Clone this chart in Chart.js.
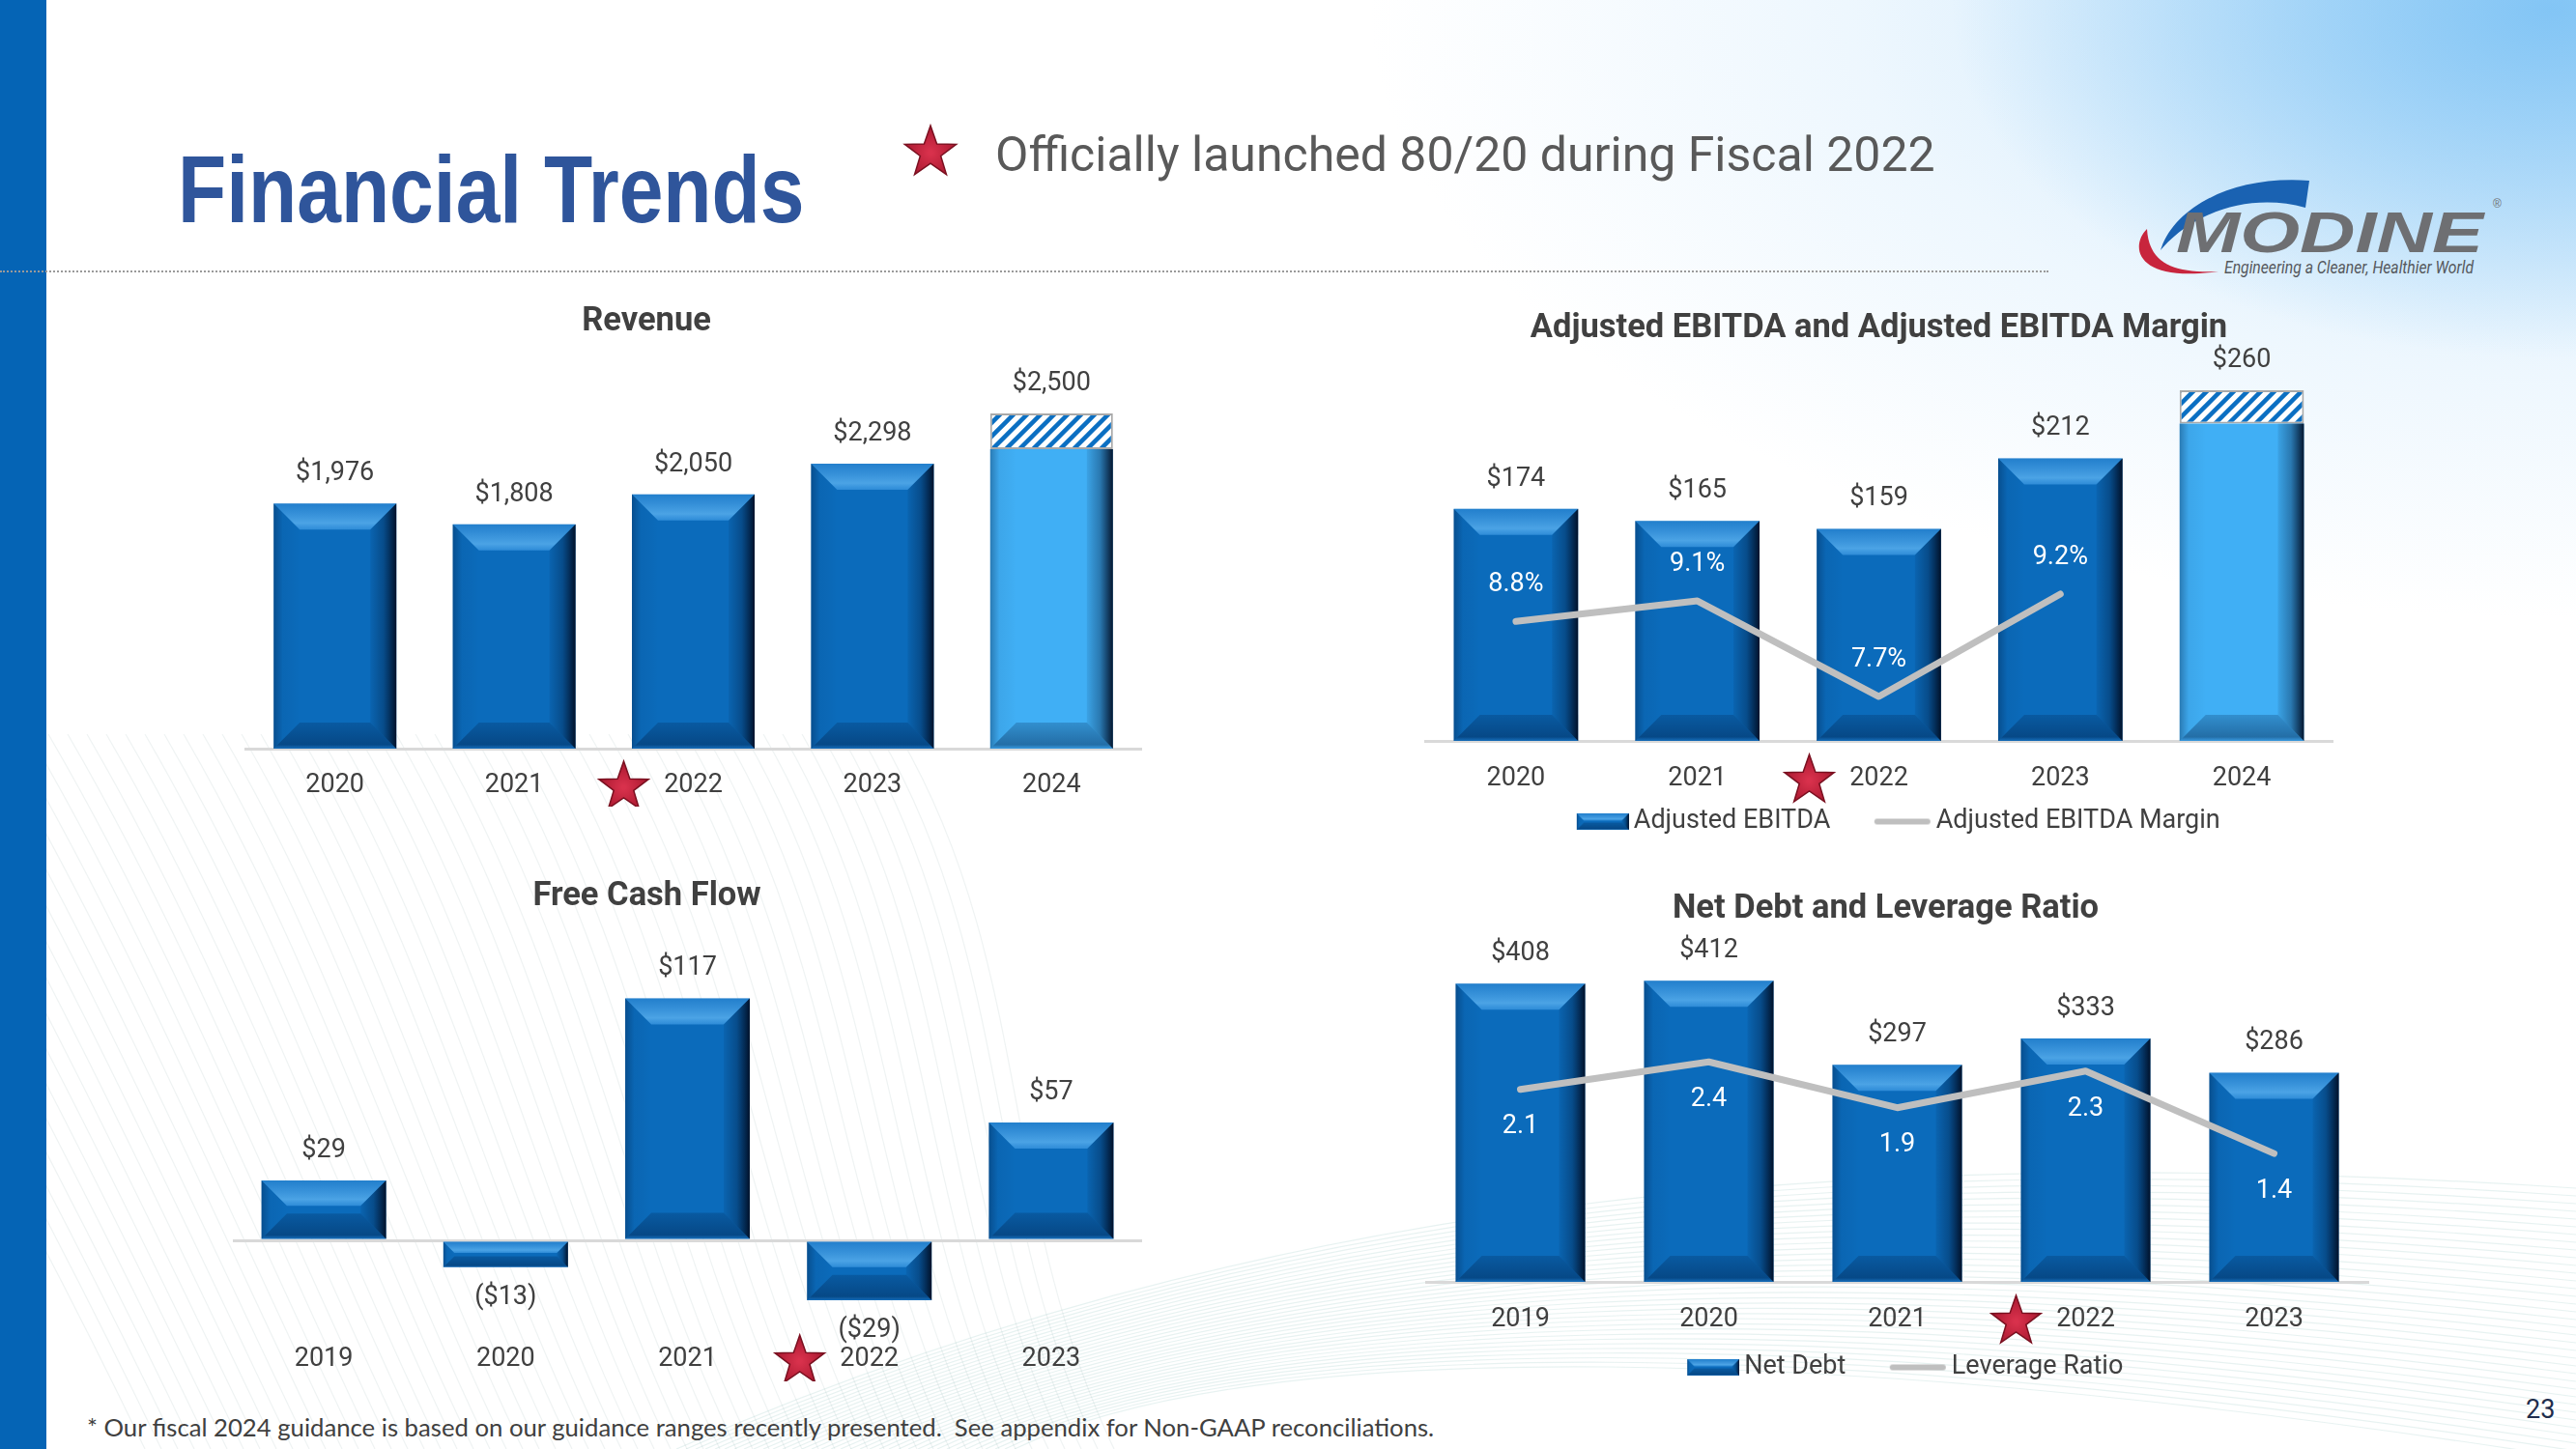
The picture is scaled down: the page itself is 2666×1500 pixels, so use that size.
<!DOCTYPE html>
<html>
<head>
<meta charset="utf-8">
<title>Financial Trends</title>
<script src="https://cdn.jsdelivr.net/npm/chart.js@4.4.1/dist/chart.umd.min.js"></script>
<style>
  html, body { margin: 0; padding: 0; }
  body { width: 2666px; height: 1500px; position: relative; overflow: hidden; background: #fff; }
  #glow { position: absolute; left: 0; top: 0; width: 2666px; height: 1500px;
    background:
      radial-gradient(ellipse 620px 360px at 2640px 10px, rgba(120,192,244,0.85), rgba(120,192,244,0) 100%),
      radial-gradient(ellipse 1250px 640px at 2666px 0px, rgba(175,218,249,0.8), rgba(205,232,252,0.35) 60%, rgba(255,255,255,0) 100%); }
  #waves { position: absolute; left: 0; top: 0; }
  #stripe { position: absolute; left: 0; top: 0; width: 48px; height: 1500px; background: #0564b5; }
  #title { position: absolute; left: 184px; top: 146px; margin: 0; color: #2f559b;
    font: bold 99px/99px 'Liberation Sans', Arial, sans-serif; white-space: nowrap;
    transform: scaleX(0.83); transform-origin: 0 0; }
  #subtitle { position: absolute; left: 1030px; top: 135px; color: #595959;
    font: 50px/50px 'Roboto', sans-serif; white-space: nowrap; }
  #rule { position: absolute; left: 0; top: 280px; width: 2120px; border-top: 2px dotted #9a9a9a; }
  #note { position: absolute; left: 90px; top: 1462px; color: #404040; white-space: pre;
    font: 25.7px/31px 'Lato', 'Open Sans', sans-serif; }
  #page { position: absolute; left: 2614px; top: 1443px; color: #1f2d4d;
    font: 27px/32px 'Roboto', sans-serif; }
  canvas { position: absolute; }
</style>
</head>
<body>
<div id="glow"></div>
<svg id="waves" width="2666" height="1500"></svg>
<div id="stripe"></div>
<h1 id="title">Financial Trends</h1>
<canvas id="headStar" width="64" height="64" style="left:931px;top:125px"></canvas>
<div id="subtitle">Officially launched 80/20 during Fiscal 2022</div>
<div id="rule"></div>
<svg width="420" height="130" viewBox="0 0 420 130" style="position:absolute;left:2200px;top:175px">
  <path d="M 36 84 C 50 40, 110 6, 190 12 L 186 40 C 130 24, 70 44, 36 84 Z" fill="#1a62b2"/>
  <path d="M 22 62 C 4 80, 10 118, 96 106 C 50 108, 24 98, 22 62 Z" fill="#c8253d"/>
  <text x="52" y="86" font-family="Liberation Sans, Arial, sans-serif" font-weight="bold" font-style="italic" font-size="60" fill="#6e6f72" textLength="318" lengthAdjust="spacingAndGlyphs">MODINE</text>
  <text x="380" y="40" font-family="Liberation Sans, sans-serif" font-size="12" fill="#6e6f72">®</text>
  <text x="102" y="108" font-family="Roboto, sans-serif" font-style="italic" font-size="18" fill="#55585c" textLength="258" lengthAdjust="spacingAndGlyphs">Engineering a Cleaner, Healthier World</text>
</svg>

<canvas id="revenueChart" width="1074" height="526" style="left:147px;top:309px"></canvas>
<canvas id="ebitdaChart" width="1020" height="558" style="left:1435px;top:316px"></canvas>
<canvas id="fcfChart" width="1075" height="526" style="left:147px;top:904px"></canvas>
<canvas id="debtChart" width="1055" height="522" style="left:1436px;top:917px"></canvas>

<div id="note">* Our fiscal 2024 guidance is based on our guidance ranges recently presented.  See appendix for Non-GAAP reconciliations.</div>
<div id="page">23</div>

<script>
// ---- data ----
const revenueYears = ['2020', '2021', '2022', '2023', '2024'];
const revenue = [1976, 1808, 2050, 2298, 2415];
const revenueGuidance = [null, null, null, null, 288];
const revenueLabels = ['$1,976', '$1,808', '$2,050', '$2,298', '$2,500'];

const ebitdaYears = ['2020', '2021', '2022', '2023', '2024'];
const ebitda = [174, 165, 159, 212, 238];
const ebitdaGuidance = [null, null, null, null, 25];
const ebitdaLabels = ['$174', '$165', '$159', '$212', '$260'];
const ebitdaMargin = [8.8, 9.1, 7.7, 9.2, null];
const marginLabels = ['8.8%', '9.1%', '7.7%', '9.2%', ''];

const fcfYears = ['2019', '2020', '2021', '2022', '2023'];
const freeCashFlow = [29, -13, 117, -29, 57];
const fcfLabels = ['$29', '($13)', '$117', '($29)', '$57'];

const debtYears = ['2019', '2020', '2021', '2022', '2023'];
const netDebt = [408, 412, 297, 333, 286];
const netDebtLabels = ['$408', '$412', '$297', '$333', '$286'];
const leverage = [2.1, 2.4, 1.9, 2.3, 1.4];
const leverageLabels = ['2.1', '2.4', '1.9', '2.3', '1.4'];

const launchYear = '2022';

// ---- style ----
const FONT = "'Roboto', sans-serif";
const FS = 27;
const DARK = '#0b6bbb';
const LIGHT = '#40aff5';
const LINE = '#bfbfbf';
const TEXT = '#404040';
const AXIS = '#d9d9d9';

Chart.defaults.font.family = FONT;
Chart.defaults.color = TEXT;
Chart.defaults.animation = false;

function poly(ctx, pts) {
  ctx.beginPath();
  pts.forEach((p, i) => i ? ctx.lineTo(p[0], p[1]) : ctx.moveTo(p[0], p[1]));
  ctx.closePath();
}

// bevelled look of the slide's bars
function paintBevel(ctx, l, t, r, b, withTop) {
  const w = r - l, h = b - t;
  const d = Math.min(27, h / 2.3, w / 4.5);
  const tt = withTop ? t + d : t;
  ctx.save();
  let g;
  if (withTop) {
    g = ctx.createLinearGradient(0, t, 0, t + d);
    g.addColorStop(0, 'rgba(90,175,245,0.30)');
    g.addColorStop(0.75, 'rgba(115,198,255,0.62)');
    g.addColorStop(1, 'rgba(90,180,250,0.45)');
    ctx.fillStyle = g;
    poly(ctx, [[l, t], [r, t], [r - d, t + d], [l + d, t + d]]);
    ctx.fill();
  }
  g = ctx.createLinearGradient(0, b - d, 0, b);
  g.addColorStop(0, 'rgba(0,30,70,0.22)');
  g.addColorStop(0.85, 'rgba(0,30,70,0.45)');
  g.addColorStop(1, 'rgba(40,110,180,0.35)');
  ctx.fillStyle = g;
  poly(ctx, [[l, b], [r, b], [r - d, b - d], [l + d, b - d]]);
  ctx.fill();
  g = ctx.createLinearGradient(r - d, 0, r, 0);
  g.addColorStop(0, 'rgba(0,20,50,0.08)');
  g.addColorStop(0.5, 'rgba(0,20,50,0.35)');
  g.addColorStop(1, 'rgba(0,10,30,0.92)');
  ctx.fillStyle = g;
  poly(ctx, [[r, t], [r, b], [r - d, b - d], [r - d, tt]]);
  ctx.fill();
  g = ctx.createLinearGradient(l, 0, l + d, 0);
  g.addColorStop(0, 'rgba(0,25,60,0.35)');
  g.addColorStop(0.35, 'rgba(0,25,60,0.06)');
  g.addColorStop(1, 'rgba(0,0,0,0)');
  ctx.fillStyle = g;
  poly(ctx, [[l, t], [l, b], [l + d, b - d], [l + d, tt]]);
  ctx.fill();
  ctx.restore();
}

function drawStar(ctx, cx, cy, R) {
  const r = R * 0.4;
  ctx.save();
  ctx.beginPath();
  for (let k = 0; k < 10; k++) {
    const rad = k % 2 ? r : R;
    const a = -Math.PI / 2 + k * Math.PI / 5;
    const px = cx + rad * Math.cos(a), py = cy + rad * Math.sin(a);
    k ? ctx.lineTo(px, py) : ctx.moveTo(px, py);
  }
  ctx.closePath();
  const g = ctx.createRadialGradient(cx, cy, 2, cx, cy, R);
  g.addColorStop(0, '#d8314c');
  g.addColorStop(1, '#a8182f');
  ctx.fillStyle = g;
  ctx.fill();
  ctx.strokeStyle = '#7a1020';
  ctx.lineWidth = 1.5;
  ctx.stroke();
  ctx.restore();
}

// hatch for the guidance range
const hatchTile = document.createElement('canvas');
hatchTile.width = hatchTile.height = 14;
(function () {
  const c = hatchTile.getContext('2d');
  c.fillStyle = '#fff';
  c.fillRect(0, 0, 14, 14);
  c.strokeStyle = '#0b6fc2';
  c.lineWidth = 4.5;
  c.beginPath();
  c.moveTo(-2, 16); c.lineTo(16, -2);
  c.moveTo(-9, 9); c.lineTo(9, -9);
  c.moveTo(5, 23); c.lineTo(23, 5);
  c.stroke();
})();
const hatch = document.createElement('canvas').getContext('2d').createPattern(hatchTile, 'repeat');

// legend swatches: drawn at the right end of a wider, transparent canvas
const SW = 103;
const barSwatch = document.createElement('canvas');
barSwatch.width = SW; barSwatch.height = 17;
(function () {
  const c = barSwatch.getContext('2d');
  c.fillStyle = DARK;
  c.fillRect(SW - 54, 0, 54, 17);
  paintBevel(c, SW - 54, 0, SW, 17, true);
})();
const lineSwatch = document.createElement('canvas');
lineSwatch.width = SW; lineSwatch.height = 8;
(function () {
  const c = lineSwatch.getContext('2d');
  c.strokeStyle = LINE; c.lineWidth = 6; c.lineCap = 'round';
  c.beginPath(); c.moveTo(SW - 56, 4); c.lineTo(SW - 4, 4); c.stroke();
})();

// ---- plugins ----
const bevelBars = {
  id: 'bevelBars',
  afterDatasetDraw(chart, args) {
    const ds = chart.data.datasets[args.index];
    if (!ds.bevel) return;
    const ctx = chart.ctx;
    args.meta.data.forEach((el, i) => {
      if (ds.data[i] == null) return;
      const p = el.getProps(['x', 'y', 'base', 'width'], true);
      const top = Math.min(p.y, p.base), bottom = Math.max(p.y, p.base);
      const withTop = ds.bevelTop ? ds.bevelTop[i] : true;
      paintBevel(ctx, p.x - p.width / 2, top, p.x + p.width / 2, bottom, withTop);
    });
  }
};

const valueLabels = {
  id: 'valueLabels',
  afterDatasetsDraw(chart, args, opts) {
    if (!opts.texts) return;
    const ctx = chart.ctx;
    const metas = chart.getSortedVisibleDatasetMetas().filter(m => m.type === 'bar');
    ctx.save();
    ctx.font = opts.size + 'px ' + FONT;
    ctx.fillStyle = opts.color;
    ctx.textAlign = 'center';
    ctx.textBaseline = 'middle';
    opts.texts.forEach((t, i) => {
      let hi = Infinity, lo = -Infinity, x = null, neg = false;
      metas.forEach(m => {
        const v = chart.data.datasets[m.index].data[i];
        if (v == null) return;
        const el = m.data[i];
        x = el.x;
        hi = Math.min(hi, el.y, el.base);
        lo = Math.max(lo, el.y, el.base);
        if (v < 0) neg = true;
      });
      if (x === null) return;
      ctx.fillText(t, x, neg ? lo + opts.offset : hi - opts.offset);
    });
    ctx.restore();
  }
};

const pointLabels = {
  id: 'pointLabels',
  afterDatasetsDraw(chart, args, opts) {
    if (!opts.texts) return;
    const ctx = chart.ctx;
    const meta = chart.getDatasetMeta(opts.dataset);
    ctx.save();
    ctx.font = opts.size + 'px ' + FONT;
    ctx.fillStyle = opts.color;
    ctx.textAlign = 'center';
    ctx.textBaseline = 'middle';
    meta.data.forEach((el, i) => {
      if (el.skip || !opts.texts[i]) return;
      ctx.fillText(opts.texts[i], el.x, el.y + opts.dy);
    });
    ctx.restore();
  }
};

const launchStar = {
  id: 'launchStar',
  afterDraw(chart, args, opts) {
    const xs = chart.scales.x;
    const i = chart.data.labels.indexOf(opts.label);
    if (i < 0) return;
    const x = xs.getPixelForValue(i) + opts.dx;
    const y = xs.top + xs.options.ticks.padding + opts.dy;
    drawStar(chart.ctx, x, y, opts.radius);
  }
};

function chartOptions(o) {
  const legend = o.legend ? {
    display: true,
    position: 'bottom',
    labels: {
      usePointStyle: true,
      pointStyleWidth: 86,
      padding: 10,
      color: TEXT,
      font: { size: FS },
      generateLabels: chart => chart.data.datasets
        .map((d, i) => ({ d, i }))
        .filter(e => e.d.swatch)
        .map(e => ({
          text: e.d.label, pointStyle: e.d.swatch, datasetIndex: e.i, hidden: false,
          fillStyle: 'rgba(0,0,0,0)', strokeStyle: 'rgba(0,0,0,0)', lineWidth: 0, fontColor: TEXT
        }))
    }
  } : { display: false };

  const scales = {
    x: {
      stacked: true,
      grid: { display: false, drawTicks: false },
      border: { display: !o.zeroLine, color: AXIS, width: 3 },
      ticks: { padding: o.tickPad, color: TEXT, font: { size: FS } },
      afterFit: s => { s.height = o.xHeight; }
    },
    y: {
      stacked: true,
      min: o.yMin, max: o.yMax,
      ticks: { display: false, stepSize: o.step },
      border: { display: false },
      grid: {
        display: !!o.zeroLine, drawTicks: false, lineWidth: 3,
        color: c => (c.tick && c.tick.value === 0) ? AXIS : 'rgba(0,0,0,0)'
      },
      afterFit: s => { s.width = o.yWidth; }
    }
  };
  if (o.y1) {
    scales.y1 = { position: 'right', display: false, min: o.y1[0], max: o.y1[1], grid: { display: false } };
  }

  return {
    responsive: false,
    animation: false,
    layout: { padding: { left: o.padLeft, right: o.padRight, top: 0, bottom: 0 } },
    plugins: {
      title: { display: true, text: o.title, color: TEXT, font: { size: 34.5, weight: 'bold' }, padding: { top: 4, bottom: 12 } },
      legend: legend,
      tooltip: { enabled: false },
      valueLabels: { texts: o.labels, size: FS, color: TEXT, offset: 31 },
      pointLabels: o.pointLabels || {},
      launchStar: { label: launchYear, dx: -72, dy: 18, radius: 27 }
    },
    scales: scales
  };
}

const plugins = [bevelBars, valueLabels, pointLabels, launchStar];

// Revenue
new Chart(document.getElementById('revenueChart'), {
  type: 'bar',
  data: {
    labels: revenueYears,
    datasets: [
      { label: 'Revenue', data: revenue, bevel: true, order: 1,
        backgroundColor: revenueGuidance.map(g => g == null ? DARK : LIGHT),
        bevelTop: revenueGuidance.map(g => g == null),
        categoryPercentage: 0.685, barPercentage: 1 },
      { label: 'Guidance range', data: revenueGuidance, order: 1,
        backgroundColor: hatch, borderColor: '#a9a9a9', borderWidth: 2, borderSkipped: false,
        categoryPercentage: 0.685, barPercentage: 1 }
    ]
  },
  options: chartOptions({ title: 'Revenue', labels: revenueLabels, yMin: 0, yMax: 3182,
    padLeft: 10, padRight: 40, yWidth: 97, xHeight: 60, tickPad: 22 }),
  plugins: plugins
});

// Adjusted EBITDA
new Chart(document.getElementById('ebitdaChart'), {
  type: 'bar',
  data: {
    labels: ebitdaYears,
    datasets: [
      { label: 'Adjusted EBITDA', data: ebitda, bevel: true, order: 1, swatch: barSwatch,
        backgroundColor: ebitdaGuidance.map(g => g == null ? DARK : LIGHT),
        bevelTop: ebitdaGuidance.map(g => g == null),
        categoryPercentage: 0.685, barPercentage: 1 },
      { label: 'Guidance range', data: ebitdaGuidance, order: 1,
        backgroundColor: hatch, borderColor: '#a9a9a9', borderWidth: 2, borderSkipped: false,
        categoryPercentage: 0.685, barPercentage: 1 },
      { type: 'line', label: 'Adjusted EBITDA Margin', data: ebitdaMargin, yAxisID: 'y1', order: 0,
        swatch: lineSwatch, borderColor: LINE, borderWidth: 7, pointRadius: 0,
        borderCapStyle: 'round', borderJoinStyle: 'round', tension: 0 }
    ]
  },
  options: chartOptions({ title: 'Adjusted EBITDA and Adjusted EBITDA Margin', labels: ebitdaLabels,
    yMin: 0, yMax: 285.2, y1: [7.05, 12.617], legend: true,
    padLeft: 40, padRight: 41, yWidth: 0, xHeight: 60, tickPad: 23,
    pointLabels: { dataset: 2, texts: marginLabels, size: FS, color: '#ffffff', dy: -38 } }),
  plugins: plugins
});

// Free Cash Flow
new Chart(document.getElementById('fcfChart'), {
  type: 'bar',
  data: {
    labels: fcfYears,
    datasets: [
      { label: 'Free Cash Flow', data: freeCashFlow, bevel: true, backgroundColor: DARK,
        categoryPercentage: 0.685, barPercentage: 1 }
    ]
  },
  options: chartOptions({ title: 'Free Cash Flow', labels: fcfLabels, yMin: -35.5, yMax: 150.7, step: 10,
    zeroLine: true, padLeft: 10, padRight: 40, yWidth: 84, xHeight: 70, tickPad: 31 }),
  plugins: plugins
});

// Net Debt and Leverage
new Chart(document.getElementById('debtChart'), {
  type: 'bar',
  data: {
    labels: debtYears,
    datasets: [
      { label: 'Net Debt', data: netDebt, bevel: true, order: 1, swatch: barSwatch, backgroundColor: DARK,
        categoryPercentage: 0.687, barPercentage: 1 },
      { type: 'line', label: 'Leverage Ratio', data: leverage, yAxisID: 'y1', order: 0,
        swatch: lineSwatch, borderColor: LINE, borderWidth: 7, pointRadius: 0,
        borderCapStyle: 'round', borderJoinStyle: 'round', tension: 0 }
    ]
  },
  options: chartOptions({ title: 'Net Debt and Leverage Ratio', labels: netDebtLabels,
    yMin: 0, yMax: 465.8, y1: [0, 3.716], legend: true,
    padLeft: 16, padRight: 40, yWidth: 24, xHeight: 65, tickPad: 23,
    pointLabels: { dataset: 1, texts: leverageLabels, size: FS, color: '#ffffff', dy: 39 } }),
  plugins: plugins
});

// header star
drawStar(document.getElementById('headStar').getContext('2d'), 32, 33, 28);

// faint background lines
(function () {
  const svg = document.getElementById('waves');
  const NS = 'http://www.w3.org/2000/svg';
  let d = '';
  for (let k = 0; k < 60; k++) {
    const x0 = -250 + k * 20, x1 = 150 + k * 17;
    d += 'M' + x0 + ' 760 C ' + (x0 + 140) + ' 1000, ' + (x1 - 120) + ' 1250, ' + x1 + ' 1500 ';
  }
  let p = document.createElementNS(NS, 'path');
  p.setAttribute('d', d);
  p.setAttribute('fill', 'none');
  p.setAttribute('stroke', 'rgba(150,175,175,0.15)');
  p.setAttribute('stroke-width', '1.2');
  svg.appendChild(p);
  d = '';
  for (let k = 0; k < 36; k++) {
    d += 'M' + (700 + k * 10) + ' 1500 C 1300 ' + (1240 + k * 4) + ', 1900 ' + (1180 + k * 6) + ', 2666 ' + (1230 + k * 8) + ' ';
  }
  p = document.createElementNS(NS, 'path');
  p.setAttribute('d', d);
  p.setAttribute('fill', 'none');
  p.setAttribute('stroke', 'rgba(120,185,175,0.18)');
  p.setAttribute('stroke-width', '1.2');
  svg.appendChild(p);
})();
</script>
</body>
</html>
